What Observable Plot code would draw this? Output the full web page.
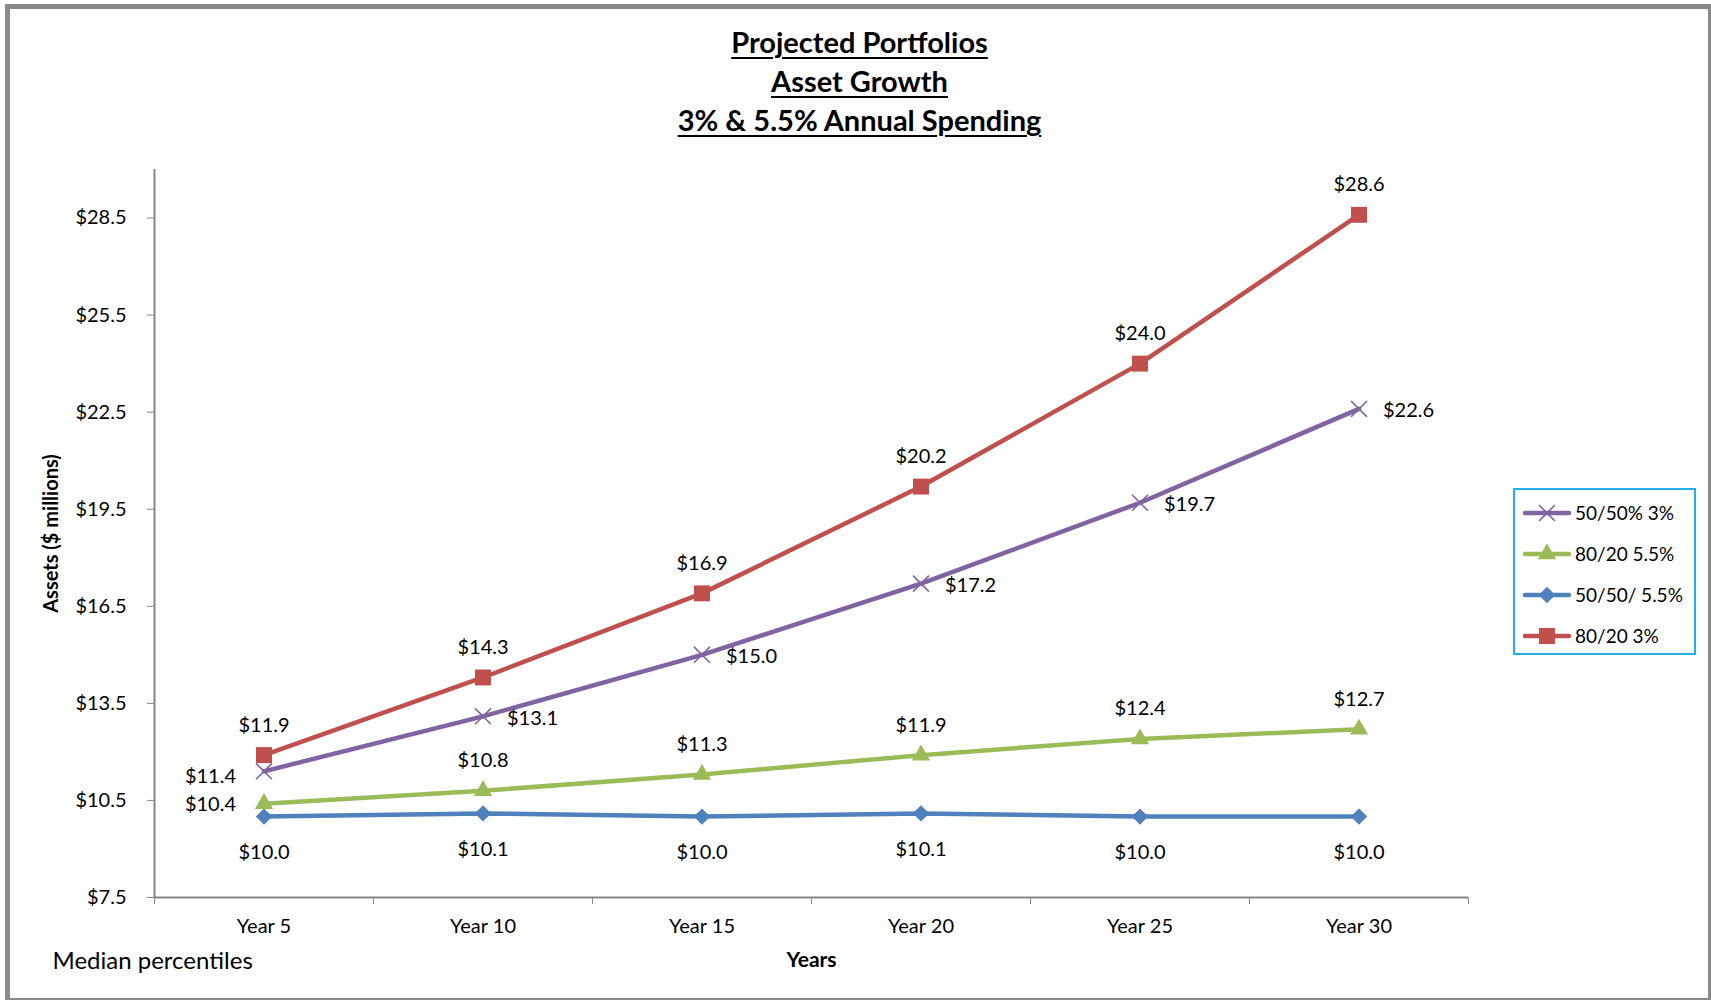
<!DOCTYPE html>
<html>
<head>
<meta charset="utf-8">
<script src="https://cdn.jsdelivr.net/npm/d3@7"></script>
<script src="https://cdn.jsdelivr.net/npm/@observablehq/plot@0.6"></script>
<style>
html, body { margin: 0; padding: 0; background: #fff; overflow: hidden; }
#wrap { position: relative; width: 1711px; height: 1000px; font-family: Lato, "Open Sans", sans-serif; color: #000; }
#title { height: 150px; box-sizing: border-box; padding-top: 22px; padding-left: 8px; text-align: center; font-weight: bold; font-size: 29px; line-height: 39px; }
#title span { text-decoration: underline; text-decoration-thickness: 2px; text-underline-offset: 4px; }
#chart svg { display: block; }
#frame { position: absolute; left: 5px; top: 4px; width: 1708px; height: 999px; box-sizing: border-box; border: 5px solid #8a8a8a; pointer-events: none; }
#legend { position: absolute; left: 1513px; top: 488px; width: 183px; height: 167px; box-sizing: border-box; border: 2px solid #22b0e8; background: #fff; padding-top: 2px; }
.row { display: flex; align-items: center; height: 41px; font-size: 19px; white-space: nowrap; }
.row svg { margin-left: 8px; margin-right: 4px; flex: none; }
</style>
</head>
<body>
<div id="wrap">
  <div id="title"></div>
  <div id="chart"></div>
  <div id="legend"></div>
  <div id="frame"></div>
</div>
<script>
// ---- Data ----
const titleLines = ["Projected Portfolios", "Asset Growth", "3% & 5.5% Annual Spending"];
const years = [5, 10, 15, 20, 25, 30];
const yearLabels = ["Year 5", "Year 10", "Year 15", "Year 20", "Year 25", "Year 30"];
const seriesNames = ["50/50% 3%", "80/20 5.5%", "50/50/ 5.5%", "80/20 3%"];
const s5050_3 = [11.4, 13.1, 15.0, 17.2, 19.7, 22.6];
const s8020_55 = [10.4, 10.8, 11.3, 11.9, 12.4, 12.7];
const s5050_55 = [10.0, 10.1, 10.0, 10.1, 10.0, 10.0];
const s8020_3 = [11.9, 14.3, 16.9, 20.2, 24.0, 28.6];
const yTicks = [7.5, 10.5, 13.5, 16.5, 19.5, 22.5, 25.5, 28.5];
const yAxisTitle = "Assets ($ millions)";
const xAxisTitle = "Years";
const footNote = "Median percentiles";

// ---- Styles ----
const seriesValues = [s5050_3, s8020_55, s5050_55, s8020_3];
const styles = {
  "50/50% 3%":   {color: "#8064A2", symbol: "times",    d3sym: d3.symbolTimes,    r: 7.3, filled: false, label: "right"},
  "80/20 5.5%":  {color: "#9BBB59", symbol: "triangle", d3sym: d3.symbolTriangle, r: 6.8, filled: true,  label: "top"},
  "50/50/ 5.5%": {color: "#4F81BD", symbol: "diamond2", d3sym: d3.symbolDiamond2, r: 7.4, filled: true,  label: "bottom"},
  "80/20 3%":    {color: "#C0504D", symbol: "square",   d3sym: d3.symbolSquare,   r: 9.0, filled: true,  label: "top"}
};
const fontFamily = 'Lato, "Open Sans", sans-serif';
const axisGray = "#868686";

// Title
d3.select("#title").selectAll("div").data(titleLines).join("div").append("span").text(d => d);

// Table
const data = [];
seriesNames.forEach((name, i) => years.forEach((yr, j) => data.push({series: name, year: yr, value: seriesValues[i][j]})));

// category boundaries (tick marks between categories, Excel style)
const step = years[1] - years[0];
const boundaries = [years[0] - step / 2, ...years.map(y => y + step / 2)];

const marks = [
  Plot.ruleY([yTicks[0]], {stroke: axisGray, strokeWidth: 2}),
  Plot.ruleX([boundaries[0]], {stroke: axisGray, strokeWidth: 2}),
  Plot.axisY(yTicks, {tickSize: 7, tickPadding: 21, stroke: axisGray, fill: "#000", fontSize: 20, label: null,
    tickFormat: d => "$" + d.toFixed(1)}),
  Plot.axisX(boundaries, {tickSize: 7, stroke: axisGray, fill: "none", label: null}),
  Plot.axisX(years, {tickSize: 0, tickPadding: 21, fill: "#000", fontSize: 20, label: null,
    tickFormat: d => yearLabels[years.indexOf(d)]}),
  Plot.text([yAxisTitle], {frameAnchor: "left", dx: -103, rotate: -90, textAnchor: "middle", lineAnchor: "middle", fontWeight: "bold", fontSize: 20}),
  Plot.text([xAxisTitle], {frameAnchor: "bottom", dy: 63, lineAnchor: "middle", fontWeight: "bold", fontSize: 21}),
  Plot.text([footNote], {frameAnchor: "bottom-left", dx: -102, dy: 64, textAnchor: "start", lineAnchor: "middle", fontSize: 24})
];

for (const name of seriesNames) {
  const st = styles[name];
  const rows = data.filter(d => d.series === name);
  marks.push(Plot.line(rows, {x: "year", y: "value", stroke: st.color, strokeWidth: 4.5, strokeLinejoin: "round", strokeLinecap: "round"}));
  if (st.filled) {
    marks.push(Plot.dot(rows, {x: "year", y: "value", symbol: st.symbol, r: st.r, fill: st.color, stroke: "none"}));
  } else {
    marks.push(Plot.dot(rows, {x: "year", y: "value", symbol: st.symbol, r: st.r, stroke: st.color, strokeWidth: 1.6, fill: "none"}));
  }
}

const fmt = d => "$" + d.value.toFixed(1);
for (const name of seriesNames) {
  const st = styles[name];
  const rows = data.filter(d => d.series === name);
  if (st.label === "top") {
    const main = name === "80/20 5.5%" ? rows.filter(d => d.year !== years[0]) : rows;
    marks.push(Plot.text(main, {x: "year", y: "value", text: fmt, dy: -30, fontSize: 20}));
    if (name === "80/20 5.5%") {
      marks.push(Plot.text(rows.filter(d => d.year === years[0]), {x: "year", y: "value", text: fmt, dx: -28, dy: 1, textAnchor: "end", fontSize: 20}));
    }
  } else if (st.label === "bottom") {
    marks.push(Plot.text(rows, {x: "year", y: "value", text: fmt, dy: 36, fontSize: 20}));
  } else {
    marks.push(Plot.text(rows.filter(d => d.year !== years[0]), {x: "year", y: "value", text: fmt, dx: 24, dy: 2, textAnchor: "start", fontSize: 20}));
    marks.push(Plot.text(rows.filter(d => d.year === years[0]), {x: "year", y: "value", text: fmt, dx: -28, dy: 5, textAnchor: "end", fontSize: 20}));
  }
}

const plot = Plot.plot({
  width: 1711,
  height: 850,
  marginLeft: 154,
  marginRight: 243,
  marginTop: 19,
  marginBottom: 103,
  x: {domain: [boundaries[0], boundaries[boundaries.length - 1]], axis: null},
  y: {domain: [7.5, 30], axis: null},
  style: {fontFamily, fontSize: "19px", background: "transparent", color: "#000", overflow: "visible"},
  marks
});
document.getElementById("chart").append(plot);

// Legend
const legend = d3.select("#legend");
for (const name of seriesNames) {
  const st = styles[name];
  const row = legend.append("div").attr("class", "row");
  const svg = row.append("svg").attr("width", 48).attr("height", 20);
  svg.append("line").attr("x1", 2).attr("x2", 46).attr("y1", 10).attr("y2", 10)
    .attr("stroke", st.color).attr("stroke-width", 4.5).attr("stroke-linecap", "round");
  const path = d3.symbol(st.d3sym, Math.PI * st.r * st.r)();
  svg.append("path").attr("d", path).attr("transform", "translate(24,10)")
    .attr("fill", st.filled ? st.color : "none")
    .attr("stroke", st.filled ? "none" : st.color)
    .attr("stroke-width", 1.6);
  row.append("span").text(name);
}
</script>
</body>
</html>
